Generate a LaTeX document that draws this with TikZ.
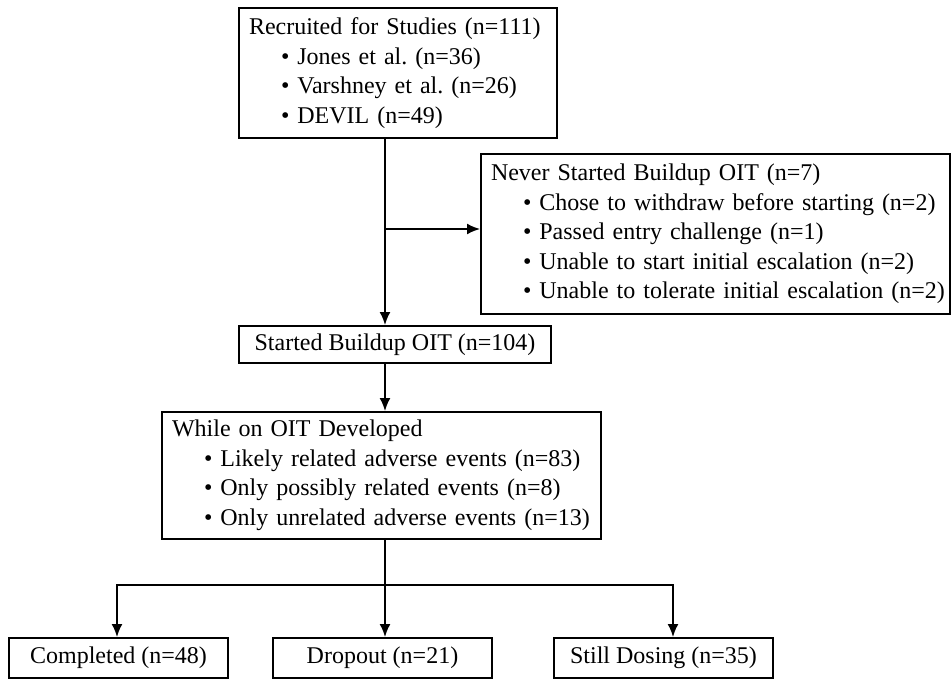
\documentclass[tikz,border=0pt]{standalone}
\usepackage{fontspec}
\setmainfont{Liberation Serif}
\usetikzlibrary{arrows.meta,positioning}

\tikzset{
  box/.style={draw, line width=2pt, rectangle, anchor=north west,
    inner xsep=0pt, inner ysep=0pt, align=left},
  flow/.style={line width=1.8pt, -{Latex[length=13pt,width=11pt]}}
}
\newcommand{\itm}[1]{\\\hspace*{42pt}\mbox{\textbullet\ #1}}
\newcommand{\hd}[1]{\hspace*{10pt}\mbox{#1}}

\begin{document}
\begin{tikzpicture}[x=1pt, y=-1pt, font=\fontsize{24}{29.5}\selectfont\frenchspacing]

\useasboundingbox (0,0) rectangle (952,680);

% Recruited
\node[box, minimum width=318, minimum height=130, text width=318] (recruit) at (238,7)
{\hd{Recruited for Studies (n=111)}\itm{Jones et al. (n=36)}\itm{Varshney et al. (n=26)}\itm{DEVIL (n=49)}};

% Never started
\node[box, minimum width=469, minimum height=160, text width=469] (never) at (480,153)
{\hd{Never Started Buildup OIT (n=7)}\itm{Chose to withdraw before starting (n=2)}\itm{Passed entry challenge (n=1)}\itm{Unable to start initial escalation (n=2)}\itm{Unable to tolerate initial escalation (n=2)}};

% Started
\node[box, minimum width=312, minimum height=37, align=center] (started) at (238,325)
{Started Buildup OIT (n=104)};

% While on OIT
\node[box, minimum width=439, minimum height=127, text width=439] (while) at (161,411)
{\hd{While on OIT Developed}\itm{Likely related adverse events (n=83)}\itm{Only possibly related events (n=8)}\itm{Only unrelated adverse events (n=13)}};

% Outcomes
\node[box, minimum width=219, minimum height=40, align=center] (completed) at (8,637)
{Completed (n=48)};
\node[box, minimum width=219, minimum height=40, align=center] (dropout) at (272,637)
{Dropout (n=21)};
\node[box, minimum width=219, minimum height=40, align=center] (dosing) at (553,637)
{Still Dosing (n=35)};

% Connectors
\coordinate (trunk) at (385,0);
\draw[flow] (recruit.south -| trunk) -- (started.north -| trunk);
\draw[flow] ([yshift=5pt]never.west -| trunk) -- ([yshift=5pt]never.west);
\draw[flow] (started.south -| trunk) -- (while.north -| trunk);

\coordinate (split) at (385,585);
\draw[line width=1.8pt] (while.south -| split) -- (split);
\draw[flow] (split) -- (split |- dropout.north);
\draw[flow] (split) -| ([xshift=-1.5pt]completed.north);
\draw[flow] (split) -| ([xshift=9.5pt]dosing.north);

\end{tikzpicture}
\end{document}
